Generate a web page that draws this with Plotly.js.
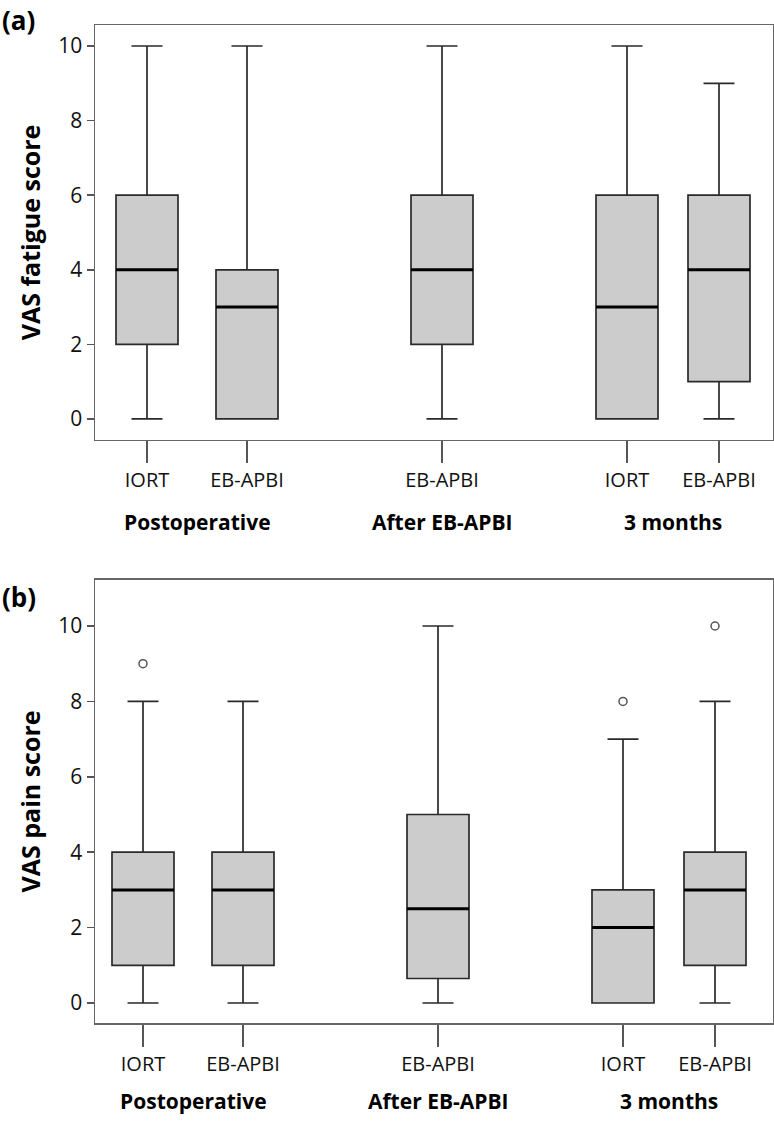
<!DOCTYPE html>
<html>
<head>
<meta charset="utf-8">
<script src="https://cdn.plot.ly/plotly-3.0.1.min.js"></script>
<style>
  body { margin: 0; background: #fff; }
  #chart { width: 774px; height: 1121px; }
</style>
</head>
<body>
<div id="chart"></div>
<script>
// box labels, left to right
var boxLabels = ["IORT", "EB-APBI", "EB-APBI", "IORT", "EB-APBI"];
var timeLabels = ["Postoperative", "After EB-APBI", "3 months"];

// (a) VAS fatigue score
var fatigueLow = [0, 0, 0, 0, 0];
var fatigueQ1 = [2, 0, 2, 0, 1];
var fatigueMed = [4, 3, 4, 3, 4];
var fatigueQ3 = [6, 4, 6, 6, 6];
var fatigueHigh = [10, 10, 10, 10, 9];

// (b) VAS pain score
var painLow = [0, 0, 0, 0, 0];
var painQ1 = [1, 1, 0.65, 0, 1];
var painMed = [3, 3, 2.5, 2, 3];
var painQ3 = [4, 4, 5, 3, 4];
var painHigh = [8, 8, 10, 7, 8];
var painOutlierBox = [0, 3, 4];
var painOutlierVal = [9, 8, 10];

// where the boxes sit along the x axis
var xpos = [0, 1, 2.95, 4.8, 5.72];
var groupCenters = [0.5, 2.95, 5.26];
var boxW = 0.62;

function boxTrace(low, q1, med, q3, high, xa, ya) {
  return {
    type: "box",
    x: xpos, q1: q1, median: med, q3: q3,
    lowerfence: low, upperfence: high,
    width: boxW, whiskerwidth: 0.5,
    boxpoints: false,
    fillcolor: "#cccccc",
    line: { color: "#2a2a2a", width: 1.7 },
    xaxis: xa, yaxis: ya,
    hoverinfo: "skip", showlegend: false
  };
}

// thick median bars on top of the boxes
function medianTrace(med, xa, ya) {
  var mx = [], my = [];
  med.forEach(function (m, i) {
    mx.push(xpos[i] - boxW / 2, xpos[i] + boxW / 2, null);
    my.push(m, m, null);
  });
  return {
    type: "scatter", mode: "lines", x: mx, y: my,
    line: { color: "#000", width: 3 },
    xaxis: xa, yaxis: ya, hoverinfo: "skip", showlegend: false
  };
}

var outliers = {
  type: "scatter", mode: "markers",
  x: painOutlierBox.map(function (i) { return xpos[i]; }),
  y: painOutlierVal,
  marker: { symbol: "circle-open", size: 8, color: "#555", line: { width: 1.5 } },
  xaxis: "x2", yaxis: "y2", hoverinfo: "skip", showlegend: false
};

var data = [
  boxTrace(fatigueLow, fatigueQ1, fatigueMed, fatigueQ3, fatigueHigh, "x", "y"),
  medianTrace(fatigueMed, "x", "y"),
  boxTrace(painLow, painQ1, painMed, painQ3, painHigh, "x2", "y2"),
  medianTrace(painMed, "x2", "y2"),
  outliers
];

var fontFam = "Open Sans, sans-serif";

function xAxis(range, anchor) {
  return {
    range: range, anchor: anchor,
    tickvals: xpos, ticktext: boxLabels,
    ticks: "outside", ticklen: 22, tickwidth: 1.5, tickcolor: "#555",
    showline: true, linecolor: "#666", linewidth: 1.5, mirror: true,
    showgrid: false, zeroline: false,
    tickfont: { family: fontFam, size: 20, color: "#111" }
  };
}

function yAxis(range, domain, anchor, title) {
  return {
    range: range, domain: domain, anchor: anchor,
    tickvals: [0, 2, 4, 6, 8, 10],
    ticks: "outside", ticklen: 7, tickwidth: 1.5, tickcolor: "#555",
    showline: true, linecolor: "#666", linewidth: 1.5, mirror: true,
    showgrid: false, zeroline: false,
    tickfont: { family: fontFam, size: 21, color: "#111" },
    title: { text: title, standoff: 10,
      font: { family: fontFam, size: 25, color: "#000", weight: "bold" } }
  };
}

var annotations = [
  { text: "<b>(a)</b>", xref: "paper", yref: "paper", x: -0.14, y: 1.025,
    xanchor: "left", yanchor: "top", showarrow: false,
    font: { family: fontFam, size: 26, color: "#000" } },
  { text: "<b>(b)</b>", xref: "paper", yref: "paper", x: -0.14, y: 0.427,
    xanchor: "left", yanchor: "middle", showarrow: false,
    font: { family: fontFam, size: 26, color: "#000" } }
];
timeLabels.forEach(function (t, i) {
  annotations.push({ text: "<b>" + t + "</b>", xref: "x", yref: "paper",
    x: groupCenters[i], y: 0.502, yanchor: "middle", showarrow: false,
    font: { family: fontFam, size: 21, color: "#000" } });
  annotations.push({ text: "<b>" + t + "</b>", xref: "x2", yref: "paper",
    x: groupCenters[i], y: -0.078, yanchor: "middle", showarrow: false,
    font: { family: fontFam, size: 21, color: "#000" } });
});

var layout = {
  width: 774, height: 1121,
  margin: { l: 95, r: 1, t: 25, b: 98 },
  paper_bgcolor: "#fff", plot_bgcolor: "#fff",
  xaxis: xAxis([-0.52, 6.26], "y"),
  yaxis: yAxis([-0.563, 10.563], [0.5842, 1], "x", "VAS fatigue score"),
  xaxis2: xAxis([-0.48, 6.30], "y2"),
  yaxis2: yAxis([-0.53, 11.22], [0, 0.4439], "x2", "VAS pain score"),
  annotations: annotations,
  showlegend: false
};

Plotly.newPlot("chart", data, layout, { displayModeBar: false, staticPlot: true });
</script>
</body>
</html>
